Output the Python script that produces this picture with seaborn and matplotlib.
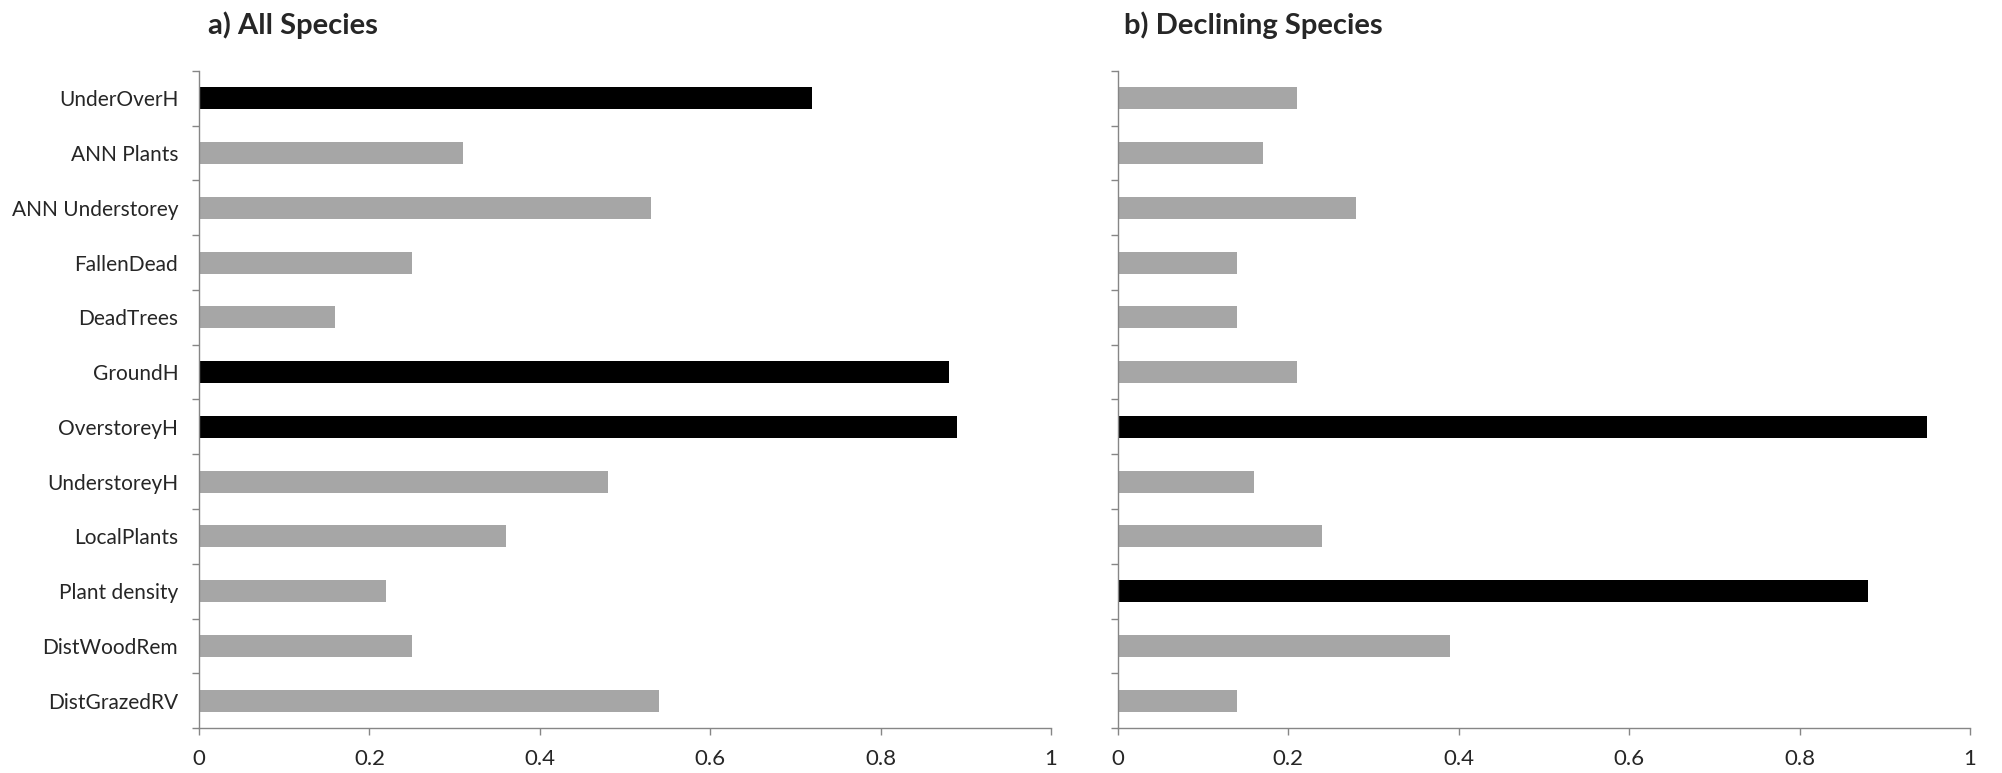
import matplotlib
matplotlib.use("Agg")
import matplotlib.pyplot as plt
import seaborn as sns
import numpy as np

categories = ["UnderOverH", "ANN Plants", "ANN Understorey", "FallenDead", "DeadTrees",
              "GroundH", "OverstoreyH", "UnderstoreyH", "LocalPlants", "Plant density",
              "DistWoodRem", "DistGrazedRV"]
all_species = [0.72, 0.31, 0.53, 0.25, 0.16, 0.88, 0.89, 0.48, 0.36, 0.22, 0.25, 0.54]
declining_species = [0.21, 0.17, 0.28, 0.14, 0.14, 0.21, 0.95, 0.16, 0.24, 0.88, 0.39, 0.14]
highlight_all = ["UnderOverH", "GroundH", "OverstoreyH"]
highlight_declining = ["OverstoreyH", "Plant density"]
titles = ["a) All Species", "b) Declining Species"]
xtick_vals = [0, 0.2, 0.4, 0.6, 0.8, 1]
xtick_labels = ["0", "0.2", "0.4", "0.6", "0.8", "1"]

sns.set_theme(style="white")
plt.rcParams["font.family"] = ["Lato", "DejaVu Sans"]

BLACK = "#000000"
GREY = "#A6A6A6"
AXIS = "#868686"

fig = plt.figure(figsize=(20.02, 7.73), dpi=100)
ax1 = fig.add_axes([0.0994, 0.0582, 0.4256, 0.850])
ax2 = fig.add_axes([0.5584, 0.0582, 0.4256, 0.850])

n = len(categories)
for ax, vals, hl, title, show_labels in [
    (ax1, all_species, highlight_all, titles[0], True),
    (ax2, declining_species, highlight_declining, titles[1], False),
]:
    pal = {c: (BLACK if c in hl else GREY) for c in categories}
    sns.barplot(x=vals, y=categories, hue=categories, palette=pal, legend=False,
                width=0.4, orient="h", ax=ax, edgecolor="none", saturation=1)
    ax.set_xlim(0, 1)
    ax.set_ylim(n - 0.5, -0.5)
    ax.set_xticks(xtick_vals)
    ax.set_xticklabels(xtick_labels)
    ax.set_yticks(np.arange(n))
    if show_labels:
        ax.set_yticklabels(categories)
    else:
        ax.set_yticklabels([])
    ax.set_yticks(np.arange(n + 1) - 0.5, minor=True)
    ax.tick_params(axis="y", which="major", length=0, pad=15, labelsize=15, colors="#262626")
    ax.tick_params(axis="y", which="minor", left=True, length=5, width=1.0, color=AXIS)
    ax.tick_params(axis="x", which="major", bottom=True, length=5, width=1.0, color=AXIS,
                   direction="out", pad=10, labelsize=16, labelcolor="#262626")
    ax.set_xlabel("")
    ax.set_ylabel("")
    for s in ["top", "right"]:
        ax.spines[s].set_visible(False)
    for s in ["left", "bottom"]:
        ax.spines[s].set_color(AXIS)
        ax.spines[s].set_linewidth(1.0)
    ax.grid(False)

fig.text(163 * 1.2768 / 2002, 1 - 25 / 773, titles[0], fontsize=21, fontweight="bold",
         ha="left", va="center")
fig.text(880 * 1.2768 / 2002, 1 - 25 / 773, titles[1], fontsize=21, fontweight="bold",
         ha="left", va="center")

fig.savefig("out.png", dpi=100, facecolor="white")
